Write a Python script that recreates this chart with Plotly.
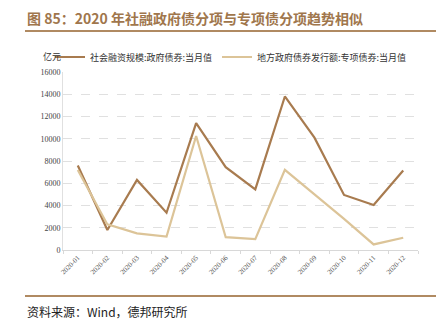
import plotly.graph_objects as go

months = ["2020-01", "2020-02", "2020-03", "2020-04", "2020-05", "2020-06",
          "2020-07", "2020-08", "2020-09", "2020-10", "2020-11", "2020-12"]
gov_bonds = [7600, 1800, 6300, 3350, 11400, 7450, 5450, 13800, 10100, 4950, 4050, 7150]
special_bonds = [7200, 2300, 1500, 1200, 10250, 1150, 970, 7200, 5000, 2800, 500, 1100]
name1 = "社会融资规模:政府债券:当月值"
name2 = "地方政府债券发行额:专项债券:当月值"
title = "图 85：2020 年社融政府债分项与专项债分项趋势相似"
source = "资料来源：Wind，德邦研究所"

W, H = 439, 325
L, R, T, B = 63, 21, 72, 75
pw, ph = W - L - R, H - T - B

def px(x):
    return (x - L) / pw

def py(y):
    return 1 - (y - T) / ph

CJK = "Noto Sans CJK SC"
SERIF = "Liberation Serif"

fig = go.Figure()
fig.add_trace(go.Scatter(x=months, y=gov_bonds, mode="lines", name=name1,
                         line=dict(color="#a87b4f", width=2.2)))
fig.add_trace(go.Scatter(x=months, y=special_bonds, mode="lines", name=name2,
                         line=dict(color="#dcc498", width=2.2)))

fig.update_layout(
    width=W, height=H,
    margin=dict(l=L, r=R, t=T, b=B),
    paper_bgcolor="white", plot_bgcolor="white",
    showlegend=True,
    legend=dict(orientation="h", x=px(50), y=py(57), xanchor="left", yanchor="middle",
                font=dict(family=CJK, size=9, color="#333"),
                bgcolor="rgba(0,0,0,0)", tracegroupgap=0, itemwidth=30),
    xaxis=dict(type="category", range=[-0.5, 11.5], tickangle=-45,
               tickson="boundaries", ticks="outside", ticklen=3, tickcolor="#d8d8d8",
               showline=True, linecolor="#d8d8d8", linewidth=1,
               showgrid=False, zeroline=False,
               tickfont=dict(family=SERIF, size=7, color="#555")),
    yaxis=dict(range=[0, 16000], dtick=2000, tickformat="d", showline=True,
               linecolor="#e0e0e0",
               showgrid=True, gridcolor="#e0e0e0", griddash="dash", zeroline=False,
               ticks="", tickfont=dict(family=SERIF, size=8, color="#444")),
    annotations=[
        dict(text="<b>" + title + "</b>", xref="paper", yref="paper",
             x=px(25), y=py(18), xanchor="left", yanchor="middle", showarrow=False,
             font=dict(family=CJK, size=14, color="#a0764c")),
        dict(text="亿元", xref="paper", yref="paper", x=px(41), y=py(57),
             xanchor="left", yanchor="middle", showarrow=False,
             font=dict(family=CJK, size=9, color="#333")),
        dict(text=source, xref="paper", yref="paper", x=px(25), y=py(311),
             xanchor="left", yanchor="middle", showarrow=False,
             font=dict(family=CJK, size=12, color="#222")),
    ],
    shapes=[
        dict(type="line", xref="paper", yref="paper", x0=px(25), x1=px(436),
             y0=py(31), y1=py(31), line=dict(color="#b08a62", width=2)),
        dict(type="line", xref="paper", yref="paper", x0=px(25), x1=px(436),
             y0=py(296), y1=py(296), line=dict(color="#b08a62", width=2)),
    ],
)

fig.write_html("out.html")
